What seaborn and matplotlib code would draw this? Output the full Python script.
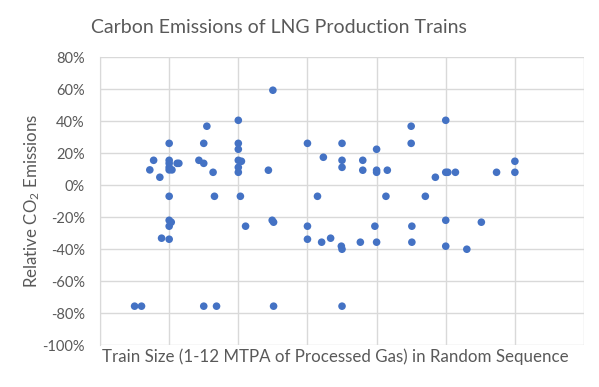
import matplotlib
matplotlib.use("Agg")
import matplotlib.pyplot as plt
import seaborn as sns
import pandas as pd
from matplotlib.ticker import FuncFormatter, MultipleLocator

# Train size position (random sequence) and relative CO2 emissions (%)
train_x = [
    5.0, 4.0, 3.09, 10.0, 9.0, 2.0, 3.0, 4.0, 6.0, 7.0, 9.0, 4.0, 8.0, 6.46,
    1.55, 2.0, 2.86, 4.0, 4.09, 7.0, 7.6, 12.0, 2.0, 2.23, 2.28, 3.0, 2.0, 4.0,
    7.0, 1.44, 2.0, 2.08, 4.87, 7.6, 8.0, 8.31, 3.27, 4.0, 8.0, 10.0, 10.06,
    10.28, 11.47, 12.0, 1.73, 9.7,
    2.0, 3.31, 4.06, 6.29, 8.27, 9.41, 2.0, 2.06, 2.0, 4.21, 4.98, 5.02, 6.0,
    7.95, 9.02, 10.0, 11.03, 1.78, 2.0, 6.0, 6.41, 6.67, 6.98, 7.0, 7.53, 8.0,
    9.02, 10.0, 10.61, 1.0, 1.2, 3.0, 3.37, 5.02, 7.0,
]
rel_emissions = [
    59.4, 40.6, 36.9, 40.6, 36.9, 26.2, 26.2, 26.2, 26.2, 26.2, 26.2, 22.5, 22.5, 17.5,
    15.6, 15.6, 15.6, 15.6, 15.0, 15.6, 15.6, 15.0, 13.7, 13.7, 13.7, 13.7, 11.2, 11.2,
    11.2, 9.6, 9.6, 9.6, 9.4, 9.4, 9.4, 9.4, 8.1, 8.1, 8.1, 8.1, 8.1,
    8.1, 8.1, 8.1, 5.0, 5.0,
    -6.9, -6.9, -6.9, -6.9, -6.9, -6.9, -21.9, -23.1, -25.6, -25.6, -21.9, -23.1, -25.6,
    -25.6, -25.6, -21.9, -23.1, -33.1, -33.75, -33.75, -35.6, -33.1, -38.1, -40.0, -35.6, -35.6,
    -35.6, -38.1, -40.0, -75.6, -75.6, -75.6, -75.6, -75.6, -75.6,
]
y_ticks = [-1.0, -0.8, -0.6, -0.4, -0.2, 0.0, 0.2, 0.4, 0.6, 0.8]

df = pd.DataFrame({"x": train_x, "y": [v / 100 for v in rel_emissions]})

sns.set_style("white")
plt.rcParams["font.family"] = ["Lato", "DejaVu Sans"]
plt.rcParams["mathtext.default"] = "regular"

fig = plt.figure(figsize=(5.99, 3.87), dpi=100)
ax = fig.add_axes([0.167, 0.108, 0.808, 0.744])

sns.scatterplot(data=df, x="x", y="y", ax=ax, color="#4472C4", s=30,
                edgecolor="none", linewidth=0, zorder=3)

ax.set_xlim(0, 14)
ax.set_ylim(-1.0, 0.8)
ax.xaxis.set_major_locator(MultipleLocator(2))
ax.set_yticks(y_ticks)
ax.yaxis.set_major_formatter(FuncFormatter(lambda v, p: f"{v*100:.0f}%"))
ax.set_xticklabels([])
ax.grid(True, color="#D9D9D9", linewidth=1.0, zorder=0)
ax.set_axisbelow(True)
for side in ["top", "right", "bottom"]:
    ax.spines[side].set_visible(False)
ax.spines["left"].set_color("#D9D9D9")
ax.tick_params(axis="both", length=0, labelcolor="#595959", labelsize=10.5, pad=11)

ax.set_xlabel("Train Size (1-12 MTPA of Processed Gas) in Random Sequence",
              fontsize=12.2, color="#595959")
ax.xaxis.set_label_coords(0.486, -0.012)
ax.set_ylabel("Relative CO$_2$ Emissions", fontsize=12.2, color="#595959")
ax.yaxis.set_label_coords(-0.12, 0.5)
fig.text(0.152, 1 - 33.3 / 387, "Carbon Emissions of LNG Production Trains",
         fontsize=14, color="#595959", ha="left", va="baseline")

fig.savefig("out.png", dpi=100)
